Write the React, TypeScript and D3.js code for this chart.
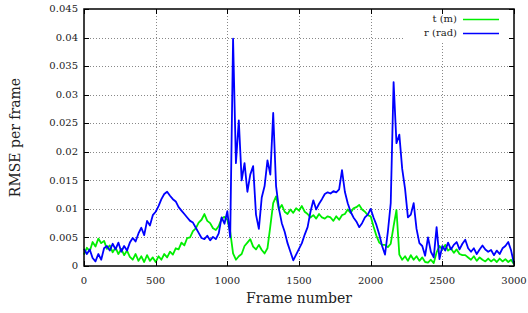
import React, { useEffect, useRef } from "react";
import * as d3 from "d3";

// frames are sampled every 20 frames from 0 to 3000
const frameStep = 20;

// t (m) translation error per frame
const tValues = [
  0.002, 0.0032, 0.0026, 0.0042, 0.0034, 0.0048, 0.004, 0.0044, 0.003, 0.0036,
  0.0024, 0.0032, 0.0021, 0.003, 0.0019, 0.0027, 0.0016, 0.0011, 0.0021, 0.0009,
  0.0017, 0.0007, 0.0019, 0.0009, 0.0015, 0.0007, 0.0017, 0.0011, 0.0021, 0.0015,
  0.0025, 0.002, 0.0031, 0.0029, 0.0041, 0.0036, 0.0049, 0.005, 0.0061, 0.0066,
  0.0076, 0.0081, 0.0091, 0.0079, 0.0075, 0.0066, 0.0063, 0.007, 0.0083, 0.0086,
  0.0081, 0.006, 0.0022, 0.0011, 0.0017, 0.0021, 0.0035, 0.0041, 0.0047, 0.0034,
  0.0029, 0.0037, 0.0028, 0.0022, 0.0031, 0.007, 0.011, 0.0122, 0.0099, 0.0107,
  0.0095, 0.0091, 0.0099, 0.0093, 0.0101, 0.0097, 0.0105, 0.0095, 0.0091, 0.0085,
  0.0089, 0.0083, 0.0091, 0.0085, 0.0083, 0.0087, 0.0085, 0.0079, 0.0087, 0.0081,
  0.0089, 0.0091, 0.0099, 0.0093, 0.0101, 0.0103, 0.0107, 0.0099, 0.0095, 0.0089,
  0.0087, 0.0069, 0.0053, 0.0041, 0.0037, 0.0037, 0.0033, 0.0039, 0.007, 0.0098,
  0.002, 0.0011, 0.0017, 0.0009, 0.0019, 0.0011, 0.0017, 0.0009, 0.0015, 0.0007,
  0.0006, 0.0011, 0.0005, 0.0024, 0.0035, 0.0029, 0.0037, 0.0027, 0.0031, 0.0023,
  0.0029, 0.0021, 0.0019, 0.0019, 0.0015, 0.0011, 0.0017, 0.0009, 0.0015, 0.0011,
  0.0008, 0.0013, 0.0008, 0.0012, 0.0007, 0.0013, 0.0008, 0.0012, 0.0007, 0.0011,
  0.0003,
];

// r (rad) rotation error per frame
const rValues = [
  0.003, 0.0021, 0.0029, 0.0014, 0.0008, 0.0021, 0.0011, 0.0031, 0.0035, 0.0027,
  0.0039, 0.0029, 0.0041, 0.0025, 0.0035, 0.0027, 0.0041, 0.0049, 0.0043, 0.0057,
  0.0067, 0.0054, 0.0079, 0.0071, 0.0089, 0.0095, 0.0105, 0.0117, 0.0126, 0.013,
  0.0123, 0.0117, 0.0113, 0.0103, 0.0097, 0.0091, 0.0085, 0.0079, 0.0076, 0.0067,
  0.0058, 0.0049, 0.0047, 0.0053, 0.0045, 0.0051, 0.0047, 0.0057, 0.0085, 0.0074,
  0.0096, 0.005, 0.0398, 0.018, 0.0255, 0.015, 0.018, 0.013, 0.016, 0.0175,
  0.009, 0.0065, 0.012, 0.014, 0.0185, 0.016, 0.0268, 0.014, 0.01, 0.0075,
  0.006, 0.004, 0.0025, 0.001, 0.002, 0.003, 0.004, 0.0055, 0.0068, 0.0095,
  0.0115, 0.0099, 0.0109, 0.0117, 0.0126, 0.0129, 0.0127, 0.0131, 0.0129, 0.0134,
  0.0168, 0.013, 0.011, 0.0095, 0.0085, 0.0078, 0.0068, 0.0075, 0.0085, 0.009,
  0.01, 0.0085, 0.0072, 0.0055, 0.0035, 0.002, 0.006, 0.011, 0.0322, 0.0215,
  0.023, 0.017, 0.0135, 0.0085, 0.009, 0.011, 0.0065, 0.004, 0.0035, 0.0018,
  0.005, 0.0025, 0.0015, 0.0068, 0.0012, 0.0035, 0.0027, 0.0041, 0.0029, 0.0037,
  0.0042, 0.0029, 0.0039, 0.0046, 0.0031, 0.0025, 0.0031, 0.0021, 0.0029, 0.0036,
  0.0029, 0.0025, 0.0028, 0.0019, 0.0027, 0.0021, 0.0031, 0.0035, 0.0042, 0.0027,
  0.0004,
];

const xTicks = [0, 500, 1000, 1500, 2000, 2500, 3000];
const yTicks = [0, 0.005, 0.01, 0.015, 0.02, 0.025, 0.03, 0.035, 0.04, 0.045];

const series = [
  { label: "t (m)", values: tValues, color: "#00ee00" },
  { label: "r (rad)", values: rValues, color: "#0000ff" },
];

const App = () => {
  const ref = useRef<SVGSVGElement>(null);

  useEffect(() => {
    const svg = d3.select(ref.current);
    svg.selectAll("*").remove();

    const width = 528;
    const height = 313;
    const margin = { top: 9, right: 14, bottom: 47, left: 84 };
    const font = "'DejaVu Serif', serif";

    const x = d3
      .scaleLinear()
      .domain([0, 3000])
      .range([margin.left, width - margin.right]);
    const y = d3
      .scaleLinear()
      .domain([0, 0.045])
      .range([height - margin.bottom, margin.top]);

    const x0 = margin.left;
    const x1 = width - margin.right;
    const y0 = height - margin.bottom;
    const y1 = margin.top;

    // grid
    const grid = svg.append("g").attr("stroke", "#888").attr("stroke-width", 1)
      .attr("stroke-dasharray", "1,2");
    grid.selectAll(".gy").data(yTicks.slice(1, -1)).enter().append("line")
      .attr("x1", x0).attr("x2", x1)
      .attr("y1", (d) => Math.round(y(d)) + 0.5).attr("y2", (d) => Math.round(y(d)) + 0.5);
    grid.selectAll(".gx").data(xTicks.slice(1, -1)).enter().append("line")
      .attr("x1", (d) => Math.round(x(d)) + 0.5).attr("x2", (d) => Math.round(x(d)) + 0.5)
      .attr("y1", y0).attr("y2", y1);

    // lines
    const line = d3
      .line<number>()
      .x((_, i) => x(i * frameStep))
      .y((d) => y(d));
    series.forEach((s) => {
      svg.append("path")
        .datum(s.values)
        .attr("fill", "none")
        .attr("stroke", s.color)
        .attr("stroke-width", 1.8)
        .attr("stroke-linejoin", "round")
        .attr("d", line);
    });

    // legend
    svg.append("rect").attr("x", 404).attr("y", y1 + 1).attr("width", x1 - 405).attr("height", 32)
      .attr("fill", "white");
    series.forEach((s, i) => {
      const ly = 19 + i * 14;
      svg.append("text").attr("x", 457).attr("y", ly).attr("dy", "0.32em")
        .attr("text-anchor", "end").style("font-family", font).style("font-size", "10px")
        .attr("fill", "#222").text(s.label);
      svg.append("line").attr("x1", 463).attr("x2", 499).attr("y1", ly + 0.5).attr("y2", ly + 0.5)
        .attr("stroke", s.color).attr("stroke-width", 1.4);
    });

    // ticks (mirrored, inward)
    const ticks = svg.append("g").attr("stroke", "#000").attr("stroke-width", 1);
    yTicks.forEach((t) => {
      const yy = Math.round(y(t)) + 0.5;
      ticks.append("line").attr("x1", x0).attr("x2", x0 + 5).attr("y1", yy).attr("y2", yy);
      ticks.append("line").attr("x1", x1).attr("x2", x1 - 5).attr("y1", yy).attr("y2", yy);
    });
    xTicks.forEach((t) => {
      const xx = Math.round(x(t)) + 0.5;
      ticks.append("line").attr("x1", xx).attr("x2", xx).attr("y1", y0).attr("y2", y0 - 5);
      ticks.append("line").attr("x1", xx).attr("x2", xx).attr("y1", y1).attr("y2", y1 + 5);
    });

    // frame
    svg.append("rect").attr("x", x0).attr("y", y1).attr("width", x1 - x0).attr("height", y0 - y1)
      .attr("fill", "none").attr("stroke", "#000").attr("stroke-width", 1.5);

    // tick labels
    svg.append("g").selectAll("text").data(yTicks).enter().append("text")
      .attr("x", x0 - 6).attr("y", (d) => y(d)).attr("dy", "0.32em")
      .attr("text-anchor", "end").style("font-family", font).style("font-size", "10px")
      .attr("fill", "#222").text((d) => (d === 0 ? "0" : String(+d.toFixed(3))));
    svg.append("g").selectAll("text").data(xTicks).enter().append("text")
      .attr("x", (d) => x(d)).attr("y", y0 + 18)
      .attr("text-anchor", "middle").style("font-family", font).style("font-size", "10px")
      .attr("fill", "#222").text((d) => String(d));

    // axis titles
    svg.append("text").attr("x", (x0 + x1) / 2).attr("y", 303)
      .attr("text-anchor", "middle").style("font-family", font).style("font-size", "14px")
      .attr("fill", "#222").text("Frame number");
    svg.append("text").attr("transform", `translate(20,${(y0 + y1) / 2}) rotate(-90)`)
      .attr("text-anchor", "middle").style("font-family", font).style("font-size", "14px")
      .attr("fill", "#222").text("RMSE per frame");
  }, []);

  return (
    <svg
      ref={ref}
      width={528}
      height={313}
      style={{ position: "absolute", left: 0, top: 0, background: "white" }}
    />
  );
};

export default App;
